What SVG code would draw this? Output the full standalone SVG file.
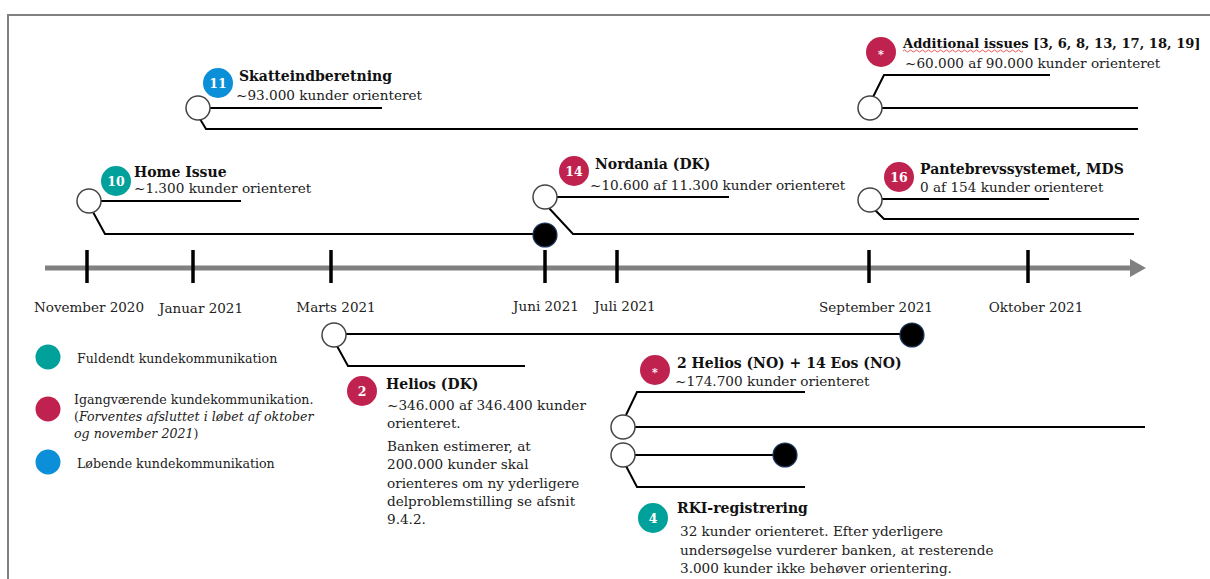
<svg xmlns="http://www.w3.org/2000/svg" width="1210" height="579" viewBox="0 0 1210 579">
<style>
text{font-family:"DejaVu Serif","Liberation Serif",serif;fill:#222;}
.h{font-weight:bold;font-size:14px;fill:#111;}
.s{font-size:13.6px;}
.ax{font-size:13.5px;}
.lg{font-size:12.6px;}
.bt{font-weight:bold;font-size:12.5px;fill:#fff;text-anchor:middle;font-family:"DejaVu Serif",serif;}
.ln{stroke:#000;stroke-width:2;fill:none;}
.ho{fill:#fff;stroke:#444;stroke-width:1.5;}
.fi{fill:#000;stroke:#1f3864;stroke-width:1.2;}
.teal{fill:#00a19a;}
.red{fill:#c0224f;}
.blue{fill:#0b8fd9;}
.tick{stroke:#000;stroke-width:3.5;}
</style>
<rect width="1210" height="579" fill="#fff"/>
<g id="frame">
<path d="M8,579 V15 H1210" fill="none" stroke="#808080" stroke-width="2"/>
</g>
<g id="axis">
<line x1="45" y1="268" x2="1132" y2="268" stroke="#808080" stroke-width="5"/>
<polygon points="1130,259 1146,268 1130,277" fill="#808080"/>
<line class="tick" x1="87" y1="250" x2="87" y2="283"/>
<line class="tick" x1="193" y1="250" x2="193" y2="283"/>
<line class="tick" x1="331" y1="250" x2="331" y2="283"/>
<line class="tick" x1="545" y1="250" x2="545" y2="283"/>
<line class="tick" x1="617" y1="250" x2="617" y2="283"/>
<line class="tick" x1="869" y1="250" x2="869" y2="283"/>
<line class="tick" x1="1028" y1="250" x2="1028" y2="283"/>
<g text-anchor="middle">
<text class="ax" x="89" y="312">November 2020</text>
<text class="ax" x="201" y="313">Januar 2021</text>
<text class="ax" x="336" y="312">Marts 2021</text>
<text class="ax" x="546" y="311">Juni 2021</text>
<text class="ax" x="625" y="311">Juli 2021</text>
<text class="ax" x="876" y="312">September 2021</text>
<text class="ax" x="1036" y="312">Oktober 2021</text>
</g>
</g>
<g id="connectors">
<path class="ln" d="M210,108 H382"/>
<path class="ln" d="M200,119 L206,129 H1138"/>
<path class="ln" d="M873,97 L884,75 H1050"/>
<path class="ln" d="M882,108 H1138"/>
<path class="ln" d="M101,201 H241"/>
<path class="ln" d="M93,212 L105,234 H533"/>
<path class="ln" d="M557,197 H729"/>
<path class="ln" d="M548,207 L573,234 H1134"/>
<path class="ln" d="M882,199 H1049"/>
<path class="ln" d="M875,210 L884,219 H1139"/>
<path class="ln" d="M346,334 H900"/>
<path class="ln" d="M337,346 L348,366 H525"/>
<path class="ln" d="M626,415 L637,392 H805"/>
<path class="ln" d="M635,427 H1145"/>
<path class="ln" d="M635,455 H773"/>
<path class="ln" d="M626,466 L637,487 H805"/>
</g>
<g id="skatteindberetning">
<circle class="ho" cx="198" cy="108" r="12"/>
<circle class="blue" cx="218" cy="83" r="15"/>
<text class="bt" x="218" y="87.5">11</text>
<text class="h" x="239" y="81">Skatteindberetning</text>
<text class="s" x="236" y="100">~93.000 kunder orienteret</text>
</g>
<g id="additional">
<circle class="ho" cx="870" cy="108" r="12"/>
<circle class="red" cx="881" cy="52" r="15"/>
<text class="bt" x="881" y="58" style="font-size:11px">*</text>
<text class="h" x="903" y="48" style="font-size:13.1px">Additional issues [3, 6, 8, 13, 17, 18, 19]</text>
<path d="M903,51 q1.5,-2 3,0 t3,0 t3,0 t3,0 t3,0 t3,0 t3,0 t3,0 t3,0 t3,0 t3,0 t3,0 t3,0 t3,0 t3,0 t3,0 t3,0 t3,0 t3,0 t3,0 t3,0 t3,0 t3,0 t3,0 t3,0 t3,0 t3,0 t3,0 t3,0 t3,0 t3,0 t3,0 t3,0 t3,0 t3,0 t3,0 t3,0 t3,0 t3,0 t3,0" fill="none" stroke="#e03030" stroke-width="0.8"/>
<text class="s" x="905" y="68">~60.000 af 90.000 kunder orienteret</text>
</g>
<g id="homeissue">
<circle class="ho" cx="89" cy="201" r="12"/>
<circle class="teal" cx="116" cy="181" r="15"/>
<text class="bt" x="116" y="185.5">10</text>
<text class="h" x="134" y="177">Home Issue</text>
<text class="s" x="134" y="193">~1.300 kunder orienteret</text>
<circle class="fi" cx="545" cy="235" r="12"/>
</g>
<g id="nordania">
<circle class="ho" cx="545" cy="197" r="12"/>
<circle class="red" cx="574" cy="171" r="15"/>
<text class="bt" x="574" y="175.5">14</text>
<text class="h" x="595" y="169">Nordania (DK)</text>
<text class="s" x="590" y="190">~10.600 af 11.300 kunder orienteret</text>
</g>
<g id="pantebrev">
<circle class="ho" cx="870" cy="200" r="12"/>
<circle class="red" cx="899" cy="177" r="15"/>
<text class="bt" x="899" y="181.5">16</text>
<text class="h" x="920" y="174">Pantebrevssystemet, MDS</text>
<text class="s" x="920" y="192">0 af 154 kunder orienteret</text>
</g>
<g id="helios-dk">
<circle class="ho" cx="334" cy="335" r="12"/>
<circle class="fi" cx="912" cy="335" r="12"/>
<circle class="red" cx="362" cy="391" r="15"/>
<text class="bt" x="362" y="395.5">2</text>
<text class="h" x="386" y="389">Helios (DK)</text>
<text class="s" x="387" y="410">~346.000 af 346.400 kunder</text>
<text class="s" x="387" y="428">orienteret.</text>
<text class="s" x="387" y="451">Banken estimerer, at</text>
<text class="s" x="387" y="469">200.000 kunder skal</text>
<text class="s" x="387" y="488">orienteres om ny yderligere</text>
<text class="s" x="387" y="506">delproblemstilling se afsnit</text>
<text class="s" x="387" y="524">9.4.2.</text>
</g>
<g id="helios-no">
<circle class="ho" cx="623" cy="427" r="12"/>
<circle class="red" cx="655" cy="370" r="15"/>
<text class="bt" x="655" y="376" style="font-size:11px">*</text>
<text class="h" x="677" y="368">2 Helios (NO) + 14 Eos (NO)</text>
<text class="s" x="675" y="386">~174.700 kunder orienteret</text>
</g>
<g id="rki">
<circle class="ho" cx="623" cy="455" r="12"/>
<circle class="fi" cx="785" cy="455" r="12"/>
<circle class="teal" cx="653" cy="518" r="15"/>
<text class="bt" x="653" y="522.5">4</text>
<text class="h" x="677" y="513">RKI-registrering</text>
<text class="s" x="680" y="536">32 kunder orienteret. Efter yderligere</text>
<text class="s" x="680" y="555">undersøgelse vurderer banken, at resterende</text>
<text class="s" x="680" y="573">3.000 kunder ikke behøver orientering.</text>
</g>
<g id="legend">
<circle class="teal" cx="48" cy="357" r="12.5"/>
<text class="lg" x="77" y="363">Fuldendt kundekommunikation</text>
<circle class="red" cx="48" cy="409" r="12.5"/>
<text class="lg" x="74" y="404">Igangværende kundekommunikation.</text>
<text class="lg" x="74" y="421">(<tspan font-style="italic">Forventes afsluttet i løbet af oktober</tspan></text>
<text class="lg" x="74" y="438"><tspan font-style="italic">og november 2021</tspan>)</text>
<circle class="blue" cx="48" cy="462" r="12.5"/>
<text class="lg" x="77" y="468">Løbende kundekommunikation</text>
</g>
</svg>
